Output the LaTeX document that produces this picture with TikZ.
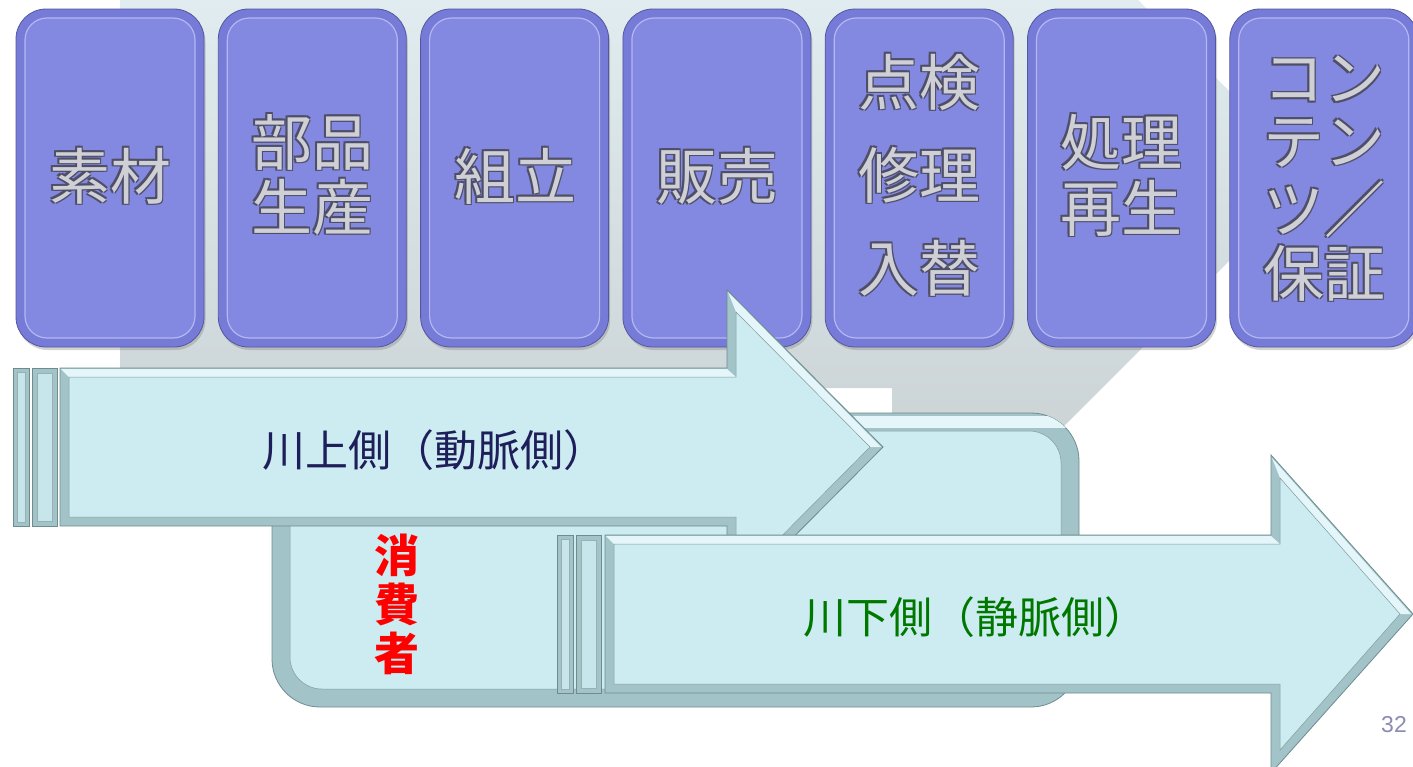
\documentclass[tikz,border=0pt]{standalone}
\usepackage{fontspec}
\setmainfont{Liberation Sans}
\newfontfamily\jp{Noto Sans CJK JP}
\usetikzlibrary{shadows}
\definecolor{boxfill}{HTML}{8388E0}
\definecolor{boxband}{HTML}{777BD8}
\definecolor{boxedge}{HTML}{54579E}
\definecolor{boxhi}{HTML}{B4B7F2}
\definecolor{cyanfill}{HTML}{CCECF1}
\definecolor{cyanedge}{HTML}{A2C3C7}
\definecolor{cyandark}{HTML}{6E8C90}
\definecolor{cyanlight}{HTML}{E4F6F9}
\definecolor{grayT}{HTML}{E0ECEF}
\definecolor{grayB}{HTML}{CCD4D6}
\definecolor{navytxt}{HTML}{1E1E5A}
\definecolor{greentxt}{HTML}{007800}
\definecolor{pnum}{HTML}{8C8CB4}
\definecolor{embdark}{HTML}{4E4E66}
\definecolor{emblight}{HTML}{CFCFD6}
\newcommand\embtext[4]{%
  \foreach \ddx/\ddy in {-1.3/-1.3,1.3/-1.3,-1.3/1.3,1.3/1.3}{\node[embtxt,text=embdark] at (#2+\ddx,#3+\ddy) {#4};}
  \node[embtxt,text=emblight] (#1) at (#2,#3) {#4};}
\begin{document}
\begin{tikzpicture}[x=1pt,y=-1pt,
  pbox/.style={draw=boxedge,line width=0.8pt,fill=boxband,rounded corners=30pt,
    minimum width=188pt,minimum height=338pt,inner sep=0pt,
    drop shadow={opacity=0.35,shadow xshift=1.5pt,shadow yshift=-3pt}},
  pinner/.style={draw=boxhi,line width=1.2pt,fill=boxfill,rounded corners=22pt,
    minimum width=170pt,minimum height=320pt,inner sep=0pt},
  embtxt/.style={font=\jp\fontsize{61}{61}\selectfont,inner sep=0pt},
  outer/.style={fill=cyanedge,draw=cyandark,line width=0.8pt,line join=miter},
  inner/.style={fill=cyanfill,draw=cyanedge!80!black,line width=0.5pt},
  band/.style={fill=cyanlight},
  bar/.style={fill=cyanedge,draw=cyandark,line width=0.7pt},
  barin/.style={fill=cyanfill!85!cyanedge,draw=cyandark!70,line width=0.4pt},
  arrtxt/.style={font=\jp\fontsize{43}{43}\selectfont,inner sep=0pt}]
\useasboundingbox (0,0) rectangle (1413,766);
\fill[white] (0,0) rectangle (1413,766);
% gray background chevron
\shade[top color=grayT,bottom color=grayB] (120,0) -- (1138,0) -- (1314,176) -- (1063,427) -- (892,427) -- (892,388) -- (120,388) -- cycle;
% purple boxes
\foreach \i in {1,...,7}{
  \pgfmathsetmacro\cx{110+202.3*(\i-1)}
  \node[pbox] (box\i) at (\cx,178) {};
  \node[pinner] (boxin\i) at (box\i.center) {};
}
\embtext{t1}{110}{176}{素材}
\embtext{t2a}{312}{142}{部品}
\embtext{t2b}{312}{207}{生産}
\embtext{t3}{515}{176}{組立}
\embtext{t4}{717}{176}{販売}
\embtext{t5a}{919}{82}{点検}
\embtext{t5b}{919}{175}{修理}
\embtext{t5c}{919}{268}{入替}
\embtext{t6a}{1121}{142}{処理}
\embtext{t6b}{1121}{208}{再生}
\embtext{t7a}{1324}{79}{コン}
\embtext{t7b}{1324}{143}{テン}
\embtext{t7c}{1324}{209}{ツ／}
\embtext{t7d}{1324}{273}{保証}
% consumer rounded rectangle
\draw[fill=cyanedge,draw=cyandark,line width=0.8pt,rounded corners=48pt] (272,413) rectangle (1079,707);
\begin{scope}
  \clip[rounded corners=48pt] (272,413) rectangle (1079,707);
  \fill[cyanlight] (272,416) rectangle (1079,428);
\end{scope}
\draw[fill=cyanfill,draw=cyanedge!80!black,line width=0.5pt,rounded corners=32pt] (290,431) rectangle (1061,689);
% upper arrow
\path[outer] (60,368) -- (727,368) -- (727,290) -- (883,447) -- (727,604) -- (727,526) -- (60,526) -- cycle;
\path[band] (61,369) -- (727,369) -- (736,377) -- (69,377) -- cycle;
\path[band] (728,292) -- (881,447) -- (870,447) -- (736,312) -- cycle;
\path[inner] (69,377) -- (736,377) -- (736,312) -- (870,447) -- (736,582) -- (736,517) -- (69,517) -- cycle;
\path[bar] (13,368) rectangle (29,526);
\path[barin] (17,372) rectangle (25,522);
\path[bar] (32,368) rectangle (57,526);
\path[barin] (37,373) rectangle (52,521);
\node[arrtxt,text=navytxt] (up) at (434,450) {川上側（動脈側）};
% consumer label
\node[font=\jp\bfseries\fontsize{45}{49}\selectfont,text=red,align=center,inner sep=0pt] (cons) at (397,604) {消\\費\\者};
% lower arrow
\path[outer] (605,535) -- (1271,535) -- (1271,455) -- (1413,614) -- (1271,773) -- (1271,693) -- (605,693) -- cycle;
\path[band] (606,536) -- (1271,536) -- (1280,544) -- (614,544) -- cycle;
\path[band] (1272,458) -- (1411,614) -- (1400,614) -- (1280,478) -- cycle;
\path[inner] (614,544) -- (1280,544) -- (1280,478) -- (1400,614) -- (1280,750) -- (1280,684) -- (614,684) -- cycle;
\path[bar] (557,535) rectangle (573,693);
\path[barin] (561,539) rectangle (569,689);
\path[bar] (576,535) rectangle (601,693);
\path[barin] (581,540) rectangle (596,688);
\node[arrtxt,text=greentxt] (down) at (975,617) {川下側（静脈側）};
% page number
\node[font=\fontsize{23}{23}\selectfont,text=pnum,inner sep=0pt] (pg) at (1394,725) {32};
\end{tikzpicture}
\end{document}
